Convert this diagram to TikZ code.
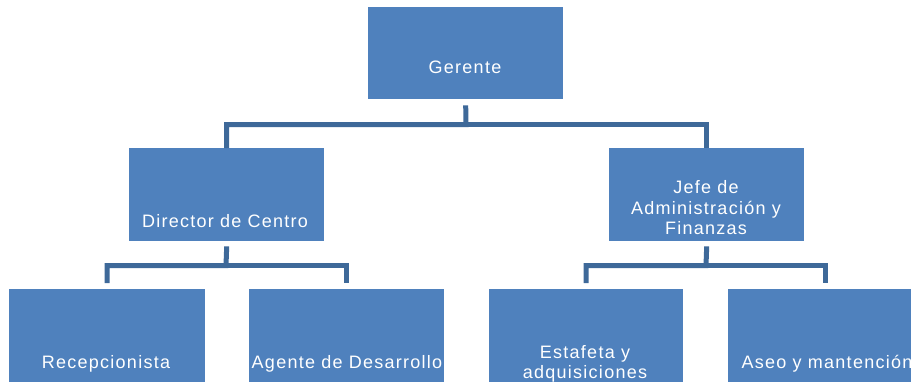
\documentclass[tikz,border=0pt]{standalone}
\usepackage{fontspec}
\setmainfont{Liberation Sans}[LetterSpace=7]
\definecolor{boxblue}{RGB}{79,129,189}
\definecolor{connblue}{RGB}{62,105,153}
\begin{document}
\begin{tikzpicture}[x=1pt,y=-1pt,
  box/.style={fill=boxblue,draw=none,inner sep=0,anchor=north west,minimum width=195pt,minimum height=93pt},
  lowbox/.style={box,minimum height=110pt},
  txt/.style={text=white,font=\fontsize{18}{21}\selectfont,inner sep=0,anchor=base},
  conn/.style={draw=connblue,line width=5pt}]
\useasboundingbox (0,0) rectangle (911,381);
\clip (0,0) rectangle (911,381);
% boxes
\node[box,minimum height=92pt] (g) at (368,7) {};
\node[box] (d) at (129,148) {};
\node[box] (jf) at (609,148) {};
\node[lowbox,minimum width=196pt] (r) at (9,289) {};
\node[lowbox] (a) at (249,289) {};
\node[lowbox,minimum width=194pt] (e) at (489,289) {};
\node[lowbox] (s) at (728,289) {};
% texts
\node[txt] (gt) at (465,73) {Gerente};
\node[txt] (dt) at (225,227) {Director de Centro};
\node[txt] (jt1) at (706,193) {Jefe de};
\node[txt] (jt2) at (706,214) {Administración y};
\node[txt] (jt3) at (706,234) {Finanzas};
\node[txt] (rt) at (106,368) {Recepcionista};
\node[txt] (at) at (347,368) {Agente de Desarrollo};
\node[txt] (et1) at (585,358) {Estafeta y};
\node[txt] (et2) at (585,378) {adquisiciones};
\node[txt] (st) at (827,368) {Aseo y mantención};
% junctions
\coordinate (j1) at (466,124.5);
\coordinate (j2) at (226,265.5);
\coordinate (j3) at (706,265.5);
% connectors
\draw[conn] ([yshift=-6pt]g.south) -- (j1) -| (d.north);
\draw[conn] (j1) -| (jf.north);
\draw[conn] ([yshift=-5pt]d.south) -- (j2) -| ([yshift=6pt]r.north);
\draw[conn] (j2) -| ([yshift=6pt]a.north);
\draw[conn] ([yshift=-5pt]jf.south) -- (j3) -| ([yshift=6pt]e.north);
\draw[conn] (j3) -| ([yshift=6pt]s.north);
\end{tikzpicture}
\end{document}
